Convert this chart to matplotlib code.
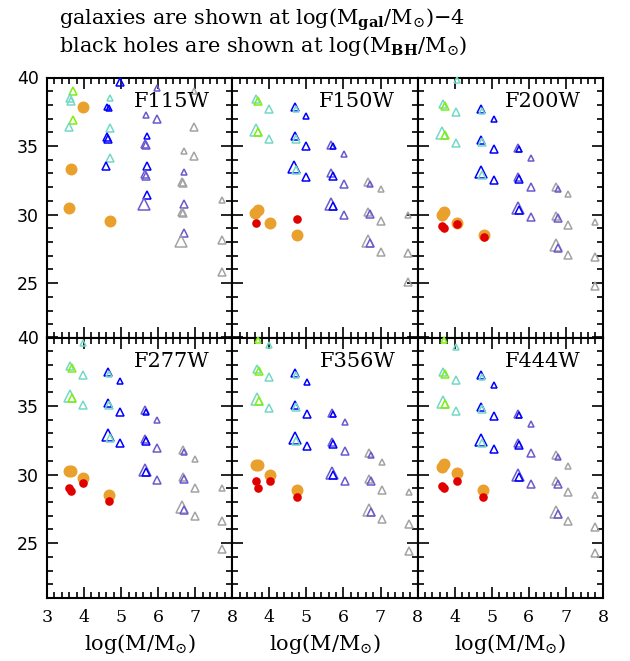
import matplotlib
matplotlib.use("Agg")
import matplotlib.pyplot as plt
from matplotlib.ticker import MultipleLocator, FixedLocator

plt.rcParams['font.family'] = ['DejaVu Serif']
plt.rcParams['mathtext.fontset'] = 'dejavuserif'

filters = ["F115W", "F150W", "F200W", "F277W", "F356W", "F444W"]

# triangles: (log M, value, colour key, size key)
f115w_tri = [
    (3.69, 39.03, 'g', 2), (3.63, 38.5, 'a', 2), (3.65, 38.3, 'a', 2),
    (3.69, 36.9, 'g', 2), (3.59, 36.36, 'a', 2),
    (4.69, 38.5, 'a', 1), (4.63, 37.85, 'b', 1), (4.66, 37.75, 'b', 1),
    (4.98, 39.64, 'b', 2),
    (4.69, 36.3, 'a', 2), (4.61, 35.65, 'b', 2), (4.64, 35.55, 'b', 2),
    (4.71, 34.1, 'a', 2), (4.60, 33.57, 'b', 2),
    (5.98, 39.2, 's', 1), (5.68, 37.28, 's', 1), (5.98, 36.97, 's', 2),
    (5.69, 35.75, 'b', 1), (5.64, 35.15, 's', 2), (5.67, 35.05, 's', 2),
    (5.69, 33.57, 'b', 2), (5.64, 32.95, 's', 2), (5.67, 32.85, 's', 2),
    (5.69, 31.4, 'b', 2), (5.62, 30.78, 's', 3),
    (6.98, 39.03, 'k', 1), (6.98, 36.4, 'k', 2),
    (6.69, 34.66, 'k', 1), (6.98, 34.25, 'k', 2),
    (6.71, 33.13, 's', 1), (6.65, 32.4, 'k', 2), (6.68, 32.3, 'k', 2),
    (6.71, 30.78, 's', 2), (6.63, 30.22, 'k', 2), (6.66, 30.12, 'k', 2),
    (6.71, 28.66, 's', 2), (6.62, 28.06, 'k', 3),
    (7.72, 31.1, 'k', 1), (7.72, 28.18, 'k', 2), (7.72, 25.85, 'k', 2),
]
f150w_tri = [
    (3.65, 38.4, 'a', 2), (3.70, 38.25, 'g', 2), (3.64, 36.2, 'a', 3), (3.70, 36.05, 'g', 2),
    (4.00, 37.7, 'a', 2), (4.00, 35.5, 'a', 2),
    (4.68, 37.85, 'b', 2), (4.71, 37.7, 'a', 1), (4.68, 35.75, 'b', 2), (4.71, 35.55, 'a', 2),
    (4.67, 33.45, 'b', 3), (4.72, 33.25, 'a', 2),
    (5.00, 37.2, 'b', 1), (5.00, 35.0, 'b', 2), (5.00, 32.75, 'b', 2),
    (5.67, 35.1, 's', 2), (5.71, 35.0, 'b', 1), (5.67, 33.0, 's', 2), (5.71, 32.85, 'b', 2),
    (5.67, 30.8, 's', 3), (5.71, 30.65, 'b', 2),
    (6.01, 34.45, 's', 1), (6.01, 32.25, 's', 2), (6.01, 30.0, 's', 2),
    (6.67, 32.35, 'k', 2), (6.71, 32.2, 's', 1), (6.67, 30.2, 'k', 2), (6.71, 30.05, 's', 2),
    (6.66, 28.05, 'k', 3), (6.72, 27.9, 's', 2),
    (7.02, 31.85, 'k', 1), (7.02, 29.5, 'k', 2), (7.02, 27.3, 'k', 2),
    (7.74, 29.95, 'k', 1), (7.74, 27.2, 'k', 2), (7.74, 25.05, 'k', 2),
]
f200w_tri = [
    (4.05, 39.8, 'a', 1),
    (3.68, 38.1, 'a', 2), (3.73, 37.95, 'g', 2), (3.67, 35.95, 'a', 3), (3.73, 35.8, 'g', 2),
    (4.04, 37.5, 'a', 2), (4.04, 35.25, 'a', 2),
    (4.71, 37.7, 'b', 2), (4.74, 37.55, 'a', 1), (4.71, 35.45, 'b', 2), (4.74, 35.3, 'a', 2),
    (4.70, 33.1, 'b', 3), (4.75, 32.9, 'a', 2),
    (5.05, 37.0, 'b', 1), (5.05, 34.75, 'b', 2), (5.05, 32.5, 'b', 2),
    (5.70, 34.85, 's', 2), (5.74, 34.75, 'b', 1), (5.70, 32.75, 's', 2), (5.74, 32.6, 'b', 2),
    (5.70, 30.5, 's', 3), (5.74, 30.35, 'b', 2),
    (6.06, 34.15, 's', 1), (6.06, 32.0, 's', 2), (6.06, 29.85, 's', 2),
    (6.74, 32.0, 'k', 2), (6.78, 31.85, 's', 1), (6.74, 29.9, 'k', 2), (6.78, 29.75, 's', 2),
    (6.73, 27.8, 'k', 3), (6.79, 27.6, 's', 2),
    (7.07, 31.5, 'k', 1), (7.07, 29.25, 'k', 2), (7.07, 27.05, 'k', 2),
    (7.80, 29.45, 'k', 1), (7.80, 26.9, 'k', 2), (7.80, 24.8, 'k', 2),
]
f277w_tri = [
    (3.96, 39.6, 'a', 1),
    (3.63, 37.9, 'a', 2), (3.68, 37.75, 'g', 2), (3.62, 35.75, 'a', 3), (3.68, 35.6, 'g', 2),
    (3.96, 37.25, 'a', 2), (3.96, 35.05, 'a', 2),
    (4.65, 37.5, 'b', 2), (4.68, 37.35, 'a', 1), (4.65, 35.25, 'b', 2), (4.68, 35.1, 'a', 2),
    (4.64, 32.9, 'b', 3), (4.69, 32.7, 'a', 2),
    (4.97, 36.85, 'b', 1), (4.97, 34.6, 'b', 2), (4.97, 32.3, 'b', 2),
    (5.64, 34.7, 's', 2), (5.68, 34.6, 'b', 1), (5.64, 32.6, 's', 2), (5.68, 32.45, 'b', 2),
    (5.64, 30.35, 's', 3), (5.68, 30.2, 'b', 2),
    (5.98, 34.0, 's', 1), (5.98, 31.95, 's', 2), (5.98, 29.6, 's', 2),
    (6.66, 31.8, 'k', 2), (6.70, 31.65, 's', 1), (6.66, 29.8, 'k', 2), (6.70, 29.65, 's', 2),
    (6.65, 27.65, 'k', 3), (6.71, 27.45, 's', 2),
    (6.99, 31.15, 'k', 1), (6.99, 29.0, 'k', 2), (6.99, 26.95, 'k', 2),
    (7.72, 29.0, 'k', 1), (7.72, 26.6, 'k', 2), (7.72, 24.6, 'k', 2),
]
f356w_tri = [
    (3.69, 39.85, 'g', 1), (4.00, 39.45, 'a', 1),
    (3.67, 37.7, 'a', 2), (3.72, 37.55, 'g', 2), (3.66, 35.5, 'a', 3), (3.72, 35.35, 'g', 2),
    (4.00, 37.1, 'a', 2), (4.00, 34.85, 'a', 2),
    (4.69, 37.4, 'b', 2), (4.72, 37.25, 'a', 1), (4.69, 35.1, 'b', 2), (4.72, 34.95, 'a', 2),
    (4.68, 32.65, 'b', 3), (4.73, 32.45, 'a', 2),
    (5.02, 36.75, 'b', 1), (5.02, 34.45, 'b', 2), (5.02, 32.05, 'b', 2),
    (5.68, 34.5, 's', 2), (5.72, 34.4, 'b', 1), (5.68, 32.4, 's', 2), (5.72, 32.25, 'b', 2),
    (5.68, 30.1, 's', 3), (5.72, 29.95, 'b', 2),
    (6.03, 33.85, 's', 1), (6.03, 31.75, 's', 2), (6.03, 29.5, 's', 2),
    (6.70, 31.6, 'k', 2), (6.74, 31.45, 's', 1), (6.70, 29.65, 'k', 2), (6.74, 29.5, 's', 2),
    (6.69, 27.45, 'k', 3), (6.75, 27.25, 's', 2),
    (7.05, 30.9, 'k', 1), (7.05, 28.85, 'k', 2), (7.05, 26.75, 'k', 2),
    (7.76, 28.7, 'k', 1), (7.76, 26.4, 'k', 2), (7.76, 24.4, 'k', 2),
]
f444w_tri = [
    (3.72, 39.8, 'g', 1), (4.04, 39.3, 'a', 1),
    (3.69, 37.5, 'a', 2), (3.74, 37.35, 'g', 2), (3.68, 35.3, 'a', 3), (3.74, 35.15, 'g', 2),
    (4.04, 36.9, 'a', 2), (4.04, 34.65, 'a', 2),
    (4.71, 37.25, 'b', 2), (4.74, 37.1, 'a', 1), (4.71, 34.95, 'b', 2), (4.74, 34.8, 'a', 2),
    (4.70, 32.5, 'b', 3), (4.75, 32.3, 'a', 2),
    (5.05, 36.55, 'b', 1), (5.05, 34.3, 'b', 2), (5.05, 31.9, 'b', 2),
    (5.70, 34.45, 's', 2), (5.74, 34.35, 'b', 1), (5.70, 32.3, 's', 2), (5.74, 32.15, 'b', 2),
    (5.70, 29.95, 's', 3), (5.74, 29.8, 'b', 2),
    (6.06, 33.7, 's', 1), (6.06, 31.6, 's', 2), (6.06, 29.3, 's', 2),
    (6.74, 31.4, 'k', 2), (6.78, 31.25, 's', 1), (6.74, 29.5, 'k', 2), (6.78, 29.35, 's', 2),
    (6.73, 27.3, 'k', 3), (6.79, 27.1, 's', 2),
    (7.07, 30.65, 'k', 1), (7.07, 28.75, 'k', 2), (7.07, 26.6, 'k', 2),
    (7.80, 28.5, 'k', 1), (7.80, 26.2, 'k', 2), (7.80, 24.3, 'k', 2),
]

# galaxies (orange) and black holes (red)
f115w_gal = [(3.97, 37.86), (3.66, 33.3), (3.59, 30.5), (4.69, 29.56)]
f115w_bh = []
f150w_gal = [(3.62, 30.15), (3.68, 30.3), (4.01, 29.4), (4.74, 28.5)]
f150w_bh = [(3.64, 29.4), (4.74, 29.65)]
f200w_gal = [(3.67, 30.0), (3.71, 30.2), (4.05, 29.4), (4.78, 28.5)]
f200w_bh = [(3.67, 29.15), (3.71, 29.0), (4.05, 29.3), (4.78, 28.4)]
f277w_gal = [(3.60, 30.25), (3.66, 30.25), (3.96, 29.75), (4.68, 28.5)]
f277w_bh = [(3.60, 29.05), (3.66, 28.8), (3.96, 29.4), (4.68, 28.05)]
f356w_gal = [(3.64, 30.7), (3.70, 30.7), (4.02, 30.0), (4.74, 28.85)]
f356w_bh = [(3.64, 29.5), (3.68, 29.05), (4.02, 29.5), (4.74, 28.4)]
f444w_gal = [(3.66, 30.55), (3.72, 30.8), (4.05, 30.15), (4.77, 28.85)]
f444w_bh = [(3.66, 29.2), (3.71, 29.05), (4.05, 29.5), (4.77, 28.4)]

tri_sets = [f115w_tri, f150w_tri, f200w_tri, f277w_tri, f356w_tri, f444w_tri]
gal_sets = [f115w_gal, f150w_gal, f200w_gal, f277w_gal, f356w_gal, f444w_gal]
bh_sets = [f115w_bh, f150w_bh, f200w_bh, f277w_bh, f356w_bh, f444w_bh]

colours = {'g': '#7fef10', 'a': '#74d9c6', 'b': '#0000ff', 's': '#6a5acd', 'k': '#a3a3a3'}
msizes = {1: 3.8, 2: 6.0, 3: 8.5}

fig = plt.figure(figsize=(6.3, 6.61), dpi=100)
W, H = 630.0, 661.0
lefts = [47, 232.3, 417.6]
pw = 185.3
bottoms = [338, 598]
ph = 260.5

axes = []
for i, name in enumerate(filters):
    r, c = divmod(i, 3)
    ax = fig.add_axes([lefts[c] / W, 1 - bottoms[r] / H, pw / W, ph / H])
    axes.append(ax)
    ax.set_xlim(3, 8)
    ax.set_ylim(21, 40)

    for (x, y, ck, sk) in tri_sets[i]:
        ax.plot(x, y, marker='^', ms=msizes[sk], mfc='none', mec=colours[ck],
                mew=1.1, ls='none', clip_on=False, zorder=3)
    for (x, y) in gal_sets[i]:
        ax.plot(x, y, marker='o', ms=8.6, color='#e9a02c', mec='none',
                ls='none', clip_on=False, zorder=4)
    for (x, y) in bh_sets[i]:
        ax.plot(x, y, marker='o', ms=6.2, color='#e00000', mec='none',
                ls='none', clip_on=False, zorder=5)

    ax.text(0.88, 0.885, name, transform=ax.transAxes, ha='right', va='baseline',
            fontsize=15)

    ax.xaxis.set_major_locator(MultipleLocator(1))
    ax.xaxis.set_minor_locator(MultipleLocator(0.2))
    ax.yaxis.set_major_locator(MultipleLocator(5))
    ax.yaxis.set_minor_locator(MultipleLocator(1))
    ax.tick_params(which='both', direction='in', top=True, right=True, width=1.2)
    ax.tick_params(which='major', length=8)
    ax.tick_params(which='minor', length=4)
    for sp in ax.spines.values():
        sp.set_linewidth(1.5)

    if c == 0:
        ax.yaxis.set_major_locator(FixedLocator([25, 30, 35, 40]))
        ax.tick_params(axis='y', labelsize=12.5, pad=6)
        for lab in ax.get_yticklabels():
            lab.set_family('DejaVu Sans')
    else:
        ax.set_yticklabels([])
    if r == 1:
        ticks = [3, 4, 5, 6, 7, 8] if c == 0 else [4, 5, 6, 7, 8]
        ax.xaxis.set_major_locator(FixedLocator(ticks))
        ax.tick_params(axis='x', labelsize=12.5, pad=8)
        ax.set_xlabel(r'log(M/M$_{\odot}$)', fontsize=15, labelpad=4)
    else:
        ax.set_xticklabels([])

fig.text(59 / W, 1 - 25 / H, r'galaxies are shown at log(M$_{\mathbf{gal}}$/M$_{\odot}$)$-$4',
         fontsize=15, va='baseline', ha='left')
fig.text(59 / W, 1 - 52 / H, r'black holes are shown at log(M$_{\mathbf{BH}}$/M$_{\odot}$)',
         fontsize=15, va='baseline', ha='left')

fig.savefig("out.png", dpi=100)
